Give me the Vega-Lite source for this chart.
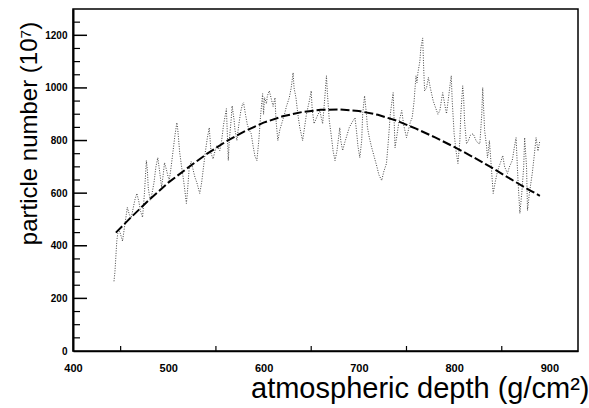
{
  "$schema": "https://vega.github.io/schema/vega-lite/v6.json",
  "autosize": "none",
  "width": 505,
  "height": 342,
  "padding": {"left": 73, "top": 9, "right": 11, "bottom": 57},
  "background": "white",
  "config": {
    "view": {"stroke": "black", "strokeWidth": 1.5},
    "axis": {
      "grid": false,
      "ticks": false,
      "labelFont": "Liberation Sans",
      "labelFontWeight": "bold",
      "labelFontSize": 10,
      "labelColor": "black",
      "labelFlush": false,
      "labelOverlap": false,
      "domainColor": "black",
      "titleFont": "Liberation Sans",
      "titleFontWeight": "normal",
      "titleColor": "black"
    }
  },
  "datasets": {
    "obs": [
      {"depth":443,"n":265},{"depth":444,"n":300},{"depth":445,"n":360},{"depth":446,"n":420},{"depth":447,"n":447},
      {"depth":449,"n":455},{"depth":451,"n":430},{"depth":452,"n":418},{"depth":454,"n":470},{"depth":456,"n":520},
      {"depth":457,"n":546},{"depth":459,"n":520},{"depth":461,"n":505},{"depth":463,"n":540},{"depth":465,"n":575},
      {"depth":467,"n":599},{"depth":469,"n":570},{"depth":471,"n":530},{"depth":473,"n":508},{"depth":475,"n":600},
      {"depth":477,"n":724},{"depth":478,"n":690},{"depth":479,"n":620},{"depth":481,"n":572},{"depth":483,"n":600},
      {"depth":485,"n":640},{"depth":487,"n":700},{"depth":489,"n":735},{"depth":491,"n":680},{"depth":493,"n":622},
      {"depth":495,"n":680},{"depth":496,"n":716},{"depth":498,"n":690},{"depth":500,"n":660},{"depth":501,"n":648},
      {"depth":503,"n":700},{"depth":505,"n":760},{"depth":507,"n":820},{"depth":509,"n":868},{"depth":510,"n":840},
      {"depth":512,"n":754},{"depth":514,"n":700},{"depth":516,"n":650},{"depth":517,"n":622},{"depth":519,"n":561},
      {"depth":520,"n":600},{"depth":522,"n":698},{"depth":524,"n":720},{"depth":526,"n":690},{"depth":528,"n":660},
      {"depth":530,"n":640},{"depth":533,"n":599},{"depth":535,"n":640},{"depth":537,"n":700},{"depth":539,"n":760},
      {"depth":541,"n":810},{"depth":543,"n":849},{"depth":545,"n":750},{"depth":547,"n":730},{"depth":549,"n":760},
      {"depth":551,"n":780},{"depth":554,"n":762},{"depth":556,"n":800},{"depth":558,"n":860},{"depth":560,"n":900},
      {"depth":561,"n":921},{"depth":563,"n":724},{"depth":564,"n":800},{"depth":566,"n":880},{"depth":567,"n":932},
      {"depth":569,"n":880},{"depth":570,"n":840},{"depth":572,"n":800},{"depth":574,"n":860},{"depth":576,"n":910},
      {"depth":578,"n":940},{"depth":579,"n":944},{"depth":581,"n":900},{"depth":583,"n":860},{"depth":585,"n":840},
      {"depth":587,"n":826},{"depth":589,"n":780},{"depth":591,"n":740},{"depth":593,"n":724},{"depth":595,"n":800},
      {"depth":597,"n":900},{"depth":599,"n":978},{"depth":600,"n":900},{"depth":601,"n":963},{"depth":603,"n":940},
      {"depth":604,"n":970},{"depth":606,"n":989},{"depth":608,"n":960},{"depth":610,"n":930},{"depth":612,"n":963},
      {"depth":613,"n":880},{"depth":615,"n":800},{"depth":617,"n":840},{"depth":620,"n":876},{"depth":622,"n":900},
      {"depth":624,"n":930},{"depth":627,"n":963},{"depth":629,"n":1000},{"depth":631,"n":1058},{"depth":632,"n":1000},
      {"depth":634,"n":963},{"depth":636,"n":900},{"depth":638,"n":850},{"depth":641,"n":800},{"depth":643,"n":850},
      {"depth":645,"n":900},{"depth":648,"n":950},{"depth":650,"n":989},{"depth":651,"n":920},{"depth":653,"n":864},
      {"depth":656,"n":890},{"depth":659,"n":914},{"depth":661,"n":880},{"depth":662,"n":864},{"depth":664,"n":950},
      {"depth":666,"n":1046},{"depth":667,"n":980},{"depth":669,"n":876},{"depth":671,"n":820},{"depth":673,"n":760},
      {"depth":675,"n":724},{"depth":677,"n":760},{"depth":680,"n":849},{"depth":681,"n":800},{"depth":683,"n":762},
      {"depth":685,"n":790},{"depth":688,"n":826},{"depth":690,"n":850},{"depth":693,"n":870},{"depth":696,"n":887},
      {"depth":698,"n":820},{"depth":699,"n":780},{"depth":701,"n":735},{"depth":703,"n":800},{"depth":704,"n":900},
      {"depth":706,"n":970},{"depth":708,"n":900},{"depth":709,"n":850},{"depth":711,"n":811},{"depth":713,"n":780},
      {"depth":716,"n":740},{"depth":719,"n":700},{"depth":721,"n":670},{"depth":724,"n":648},{"depth":726,"n":680},
      {"depth":729,"n":713},{"depth":731,"n":800},{"depth":733,"n":900},{"depth":736,"n":982},{"depth":737,"n":880},
      {"depth":738,"n":773},{"depth":740,"n":820},{"depth":742,"n":870},{"depth":745,"n":914},{"depth":747,"n":860},
      {"depth":750,"n":811},{"depth":752,"n":840},{"depth":754,"n":870},{"depth":756,"n":887},{"depth":758,"n":950},
      {"depth":759,"n":1001},{"depth":760,"n":1046},{"depth":761,"n":1020},{"depth":762,"n":1058},{"depth":764,"n":1100},
      {"depth":765,"n":1150},{"depth":767,"n":1190},{"depth":768,"n":1080},{"depth":769,"n":989},{"depth":771,"n":1000},
      {"depth":773,"n":1040},{"depth":775,"n":1000},{"depth":778,"n":951},{"depth":780,"n":930},{"depth":783,"n":900},
      {"depth":785,"n":914},{"depth":787,"n":960},{"depth":788,"n":982},{"depth":790,"n":940},{"depth":792,"n":902},
      {"depth":794,"n":960},{"depth":796,"n":1020},{"depth":797,"n":1046},{"depth":798,"n":950},{"depth":800,"n":826},
      {"depth":802,"n":760},{"depth":804,"n":713},{"depth":806,"n":800},{"depth":807,"n":900},{"depth":809,"n":1008},
      {"depth":810,"n":960},{"depth":811,"n":870},{"depth":813,"n":788},{"depth":815,"n":800},{"depth":817,"n":820},
      {"depth":820,"n":826},{"depth":823,"n":800},{"depth":825,"n":790},{"depth":827,"n":788},{"depth":829,"n":900},
      {"depth":830,"n":1001},{"depth":831,"n":920},{"depth":832,"n":838},{"depth":834,"n":780},{"depth":835,"n":735},
      {"depth":836,"n":760},{"depth":837,"n":800},{"depth":839,"n":700},{"depth":841,"n":599},{"depth":843,"n":640},
      {"depth":845,"n":675},{"depth":847,"n":700},{"depth":849,"n":720},{"depth":851,"n":743},{"depth":853,"n":700},
      {"depth":856,"n":675},{"depth":858,"n":700},{"depth":861,"n":724},{"depth":863,"n":770},{"depth":865,"n":811},
      {"depth":867,"n":650},{"depth":869,"n":523},{"depth":871,"n":600},{"depth":873,"n":700},{"depth":874,"n":811},
      {"depth":876,"n":700},{"depth":877,"n":534},{"depth":879,"n":600},{"depth":882,"n":675},{"depth":884,"n":740},
      {"depth":886,"n":811},{"depth":888,"n":760},{"depth":890,"n":800}
    ],
    "fit": [
      {"depth":445,"n":450},{"depth":460,"n":505},{"depth":480,"n":575},{"depth":500,"n":640},{"depth":520,"n":695},
      {"depth":540,"n":748},{"depth":560,"n":795},{"depth":580,"n":835},{"depth":600,"n":868},{"depth":620,"n":892},
      {"depth":640,"n":908},{"depth":660,"n":917},{"depth":680,"n":918},{"depth":700,"n":912},{"depth":720,"n":898},
      {"depth":740,"n":875},{"depth":760,"n":845},{"depth":780,"n":812},{"depth":800,"n":776},{"depth":820,"n":737},
      {"depth":840,"n":696},{"depth":860,"n":652},{"depth":880,"n":610},{"depth":890,"n":590}
    ],
    "ymajor": [{"n":200},{"n":400},{"n":600},{"n":800},{"n":1000},{"n":1200}],
    "yminor": [
      {"n":50},{"n":100},{"n":150},{"n":250},{"n":300},{"n":350},{"n":450},{"n":500},{"n":550},{"n":650},
      {"n":700},{"n":750},{"n":850},{"n":900},{"n":950},{"n":1050},{"n":1100},{"n":1150},{"n":1250}
    ],
    "xminor": [{"depth":450},{"depth":550},{"depth":650},{"depth":750},{"depth":850}]
  },
  "layer": [
    {
      "data": {"name": "obs"},
      "mark": {"type": "line", "color": "#444444", "strokeWidth": 1, "strokeDash": [1, 1.5]},
      "encoding": {
        "x": {
          "field": "depth", "type": "quantitative",
          "scale": {"domain": [400, 930], "nice": false, "zero": false},
          "axis": {
            "orient": "bottom",
            "values": [400, 500, 600, 700, 800, 900], "format": "d",
            "domainWidth": 1.5, "labelPadding": 11, "labelFontSize": 11,
            "title": "atmospheric depth (g/cm²)", "titleFontSize": 29,
            "titleAlign": "right", "titleBaseline": "alphabetic",
            "titleX": 516, "titleY": 46
          }
        },
        "y": {
          "field": "n", "type": "quantitative",
          "scale": {"domain": [0, 1300], "nice": false},
          "axis": {
            "orient": "left",
            "values": [0, 200, 400, 600, 800, 1000, 1200], "format": "d",
            "domainWidth": 2, "labelPadding": 6,
            "title": "particle number (10⁷)", "titleFontSize": 24,
            "titleAngle": -90, "titleAlign": "center", "titleBaseline": "alphabetic",
            "titleX": -37, "titleY": 124
          }
        }
      }
    },
    {
      "data": {"name": "fit"},
      "mark": {"type": "line", "color": "black", "strokeWidth": 2, "strokeDash": [9, 3]},
      "encoding": {
        "x": {"field": "depth", "type": "quantitative"},
        "y": {"field": "n", "type": "quantitative"}
      }
    },
    {
      "data": {"name": "ymajor"},
      "mark": {"type": "rule", "color": "black", "strokeWidth": 1.5, "x2Offset": 14},
      "encoding": {
        "x": {"datum": 400, "type": "quantitative"},
        "x2": {"datum": 400},
        "y": {"field": "n", "type": "quantitative"}
      }
    },
    {
      "data": {"name": "yminor"},
      "mark": {"type": "rule", "color": "black", "strokeWidth": 1.2, "x2Offset": 7},
      "encoding": {
        "x": {"datum": 400, "type": "quantitative"},
        "x2": {"datum": 400},
        "y": {"field": "n", "type": "quantitative"}
      }
    },
    {
      "data": {"name": "xminor"},
      "mark": {"type": "rule", "color": "black", "strokeWidth": 1.2, "y2Offset": -5},
      "encoding": {
        "x": {"field": "depth", "type": "quantitative"},
        "y": {"datum": 0, "type": "quantitative"},
        "y2": {"datum": 0}
      }
    }
  ]
}
